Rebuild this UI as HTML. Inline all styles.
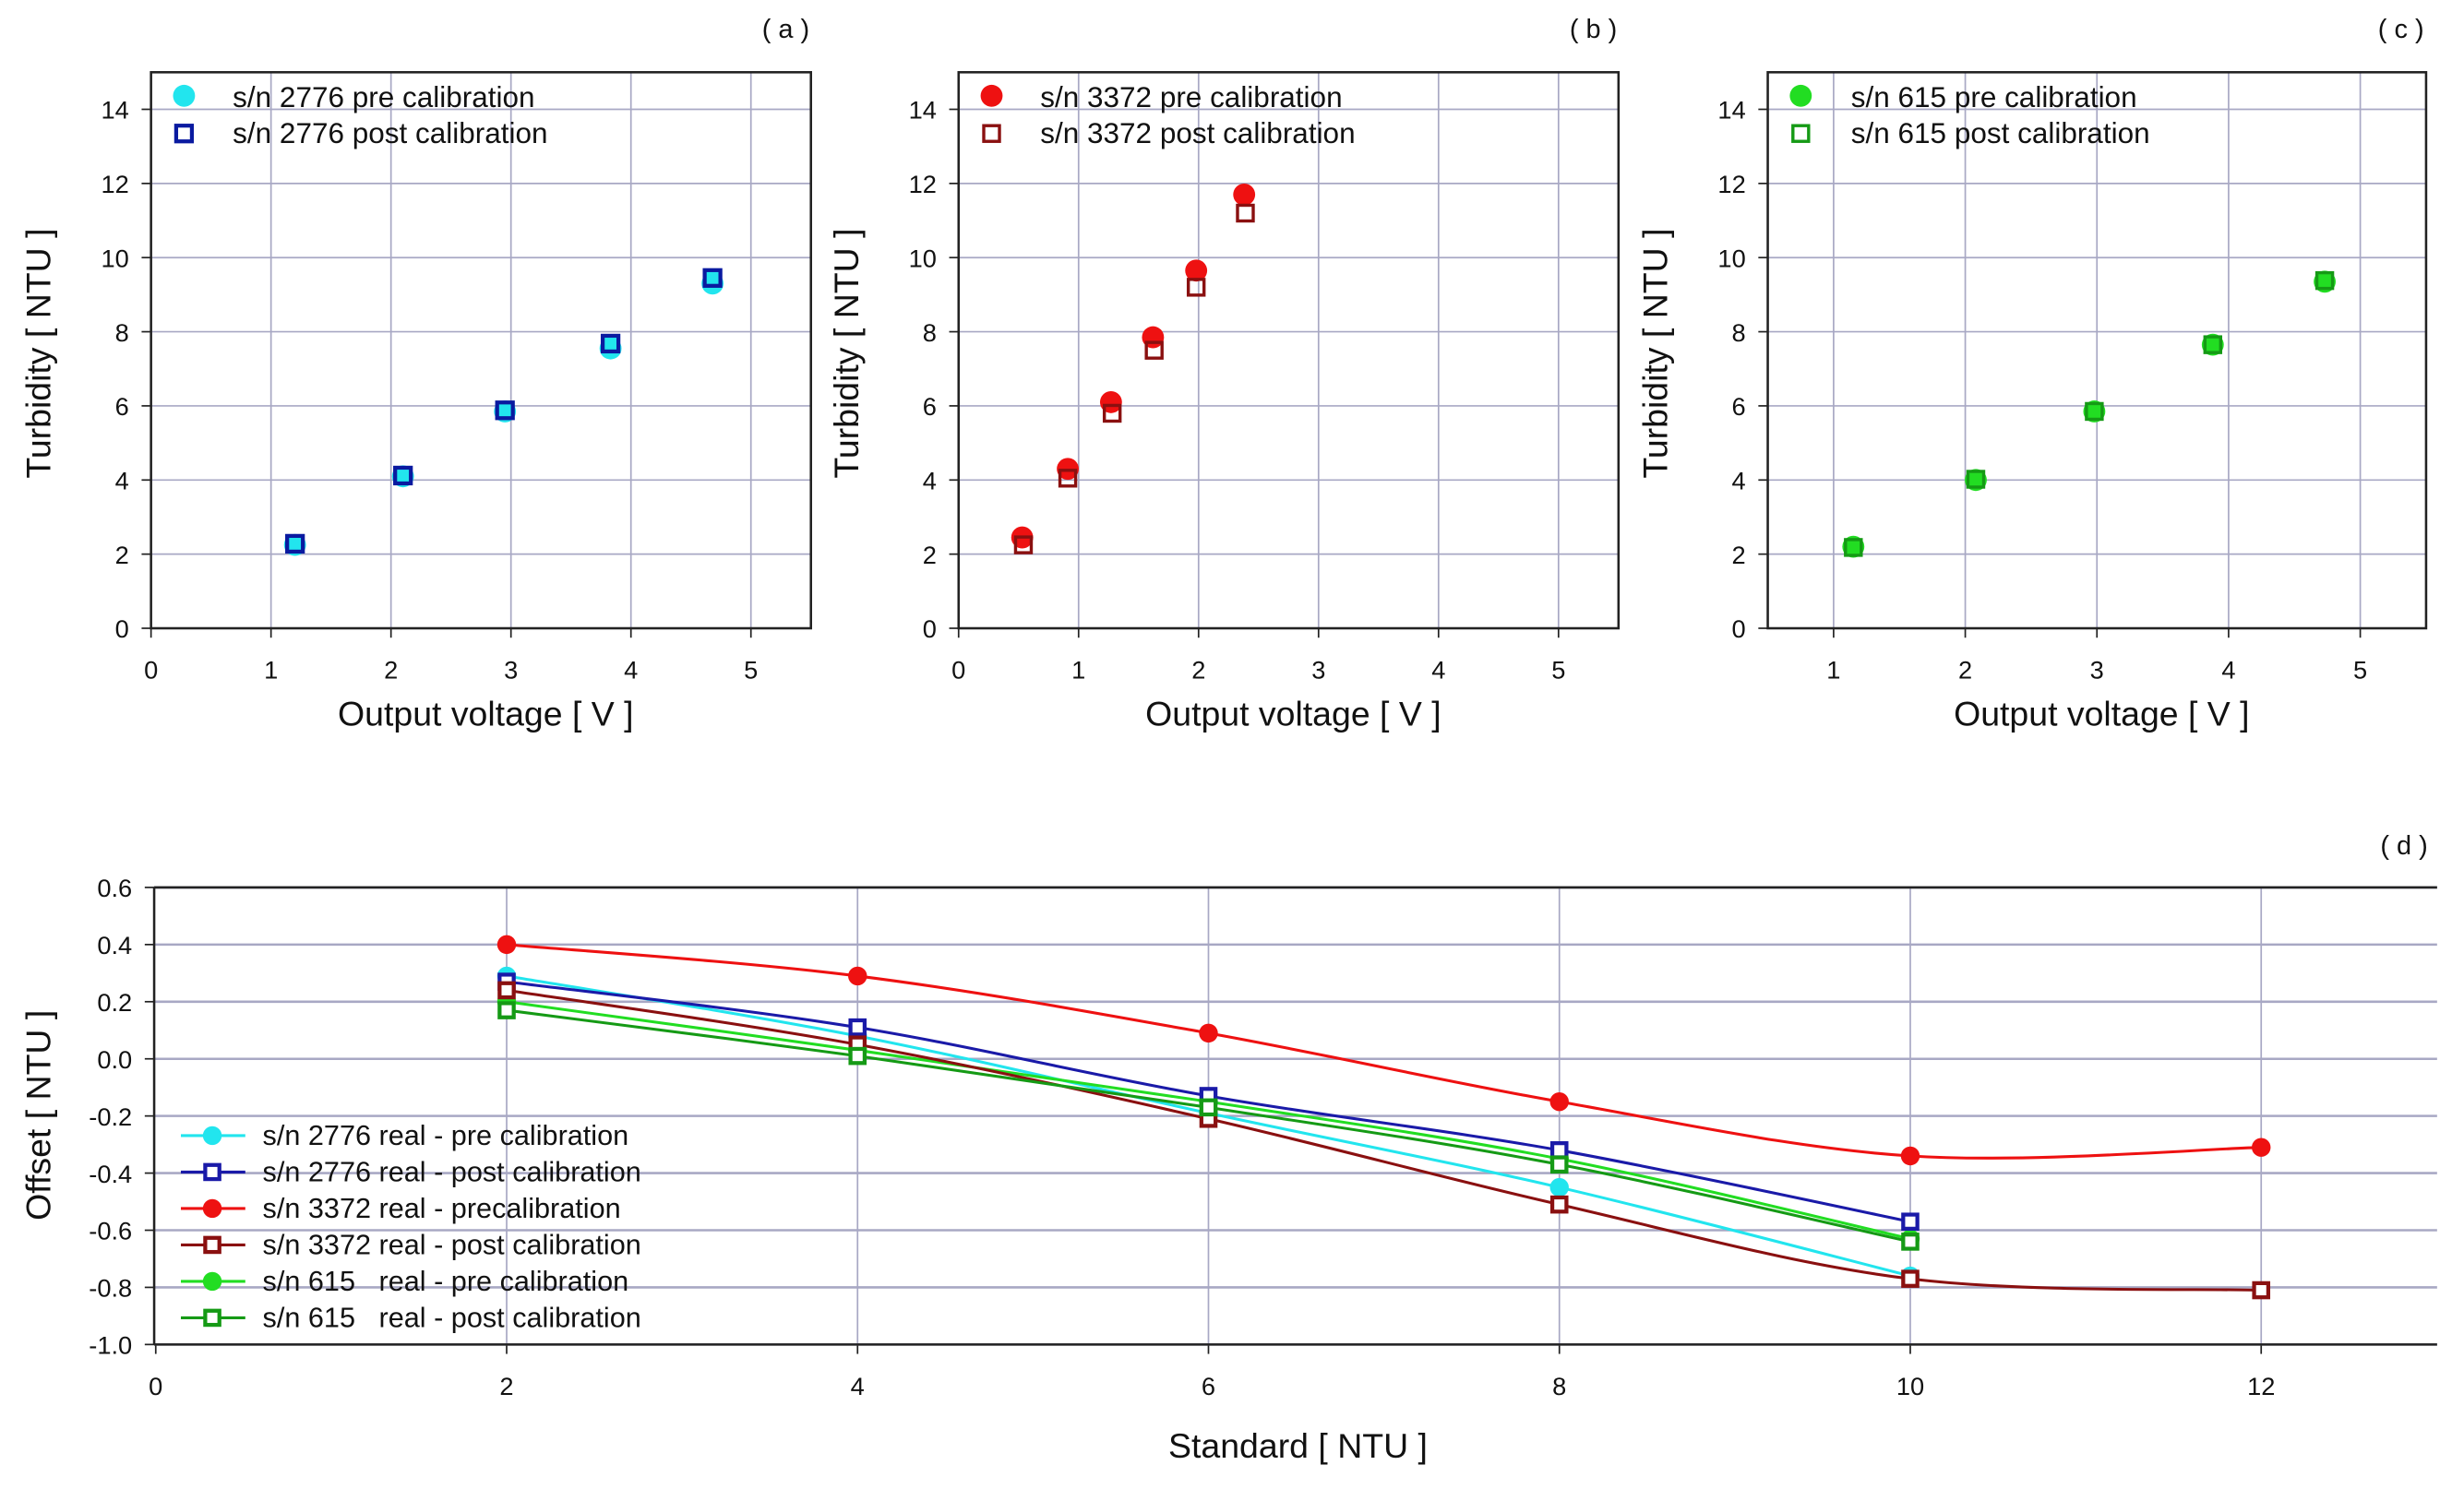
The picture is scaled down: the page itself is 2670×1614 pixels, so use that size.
<!DOCTYPE html>
<html><head><meta charset="utf-8"><style>html,body{margin:0;padding:0;background:#fff}svg{display:block}text{white-space:pre}</style></head>
<body>
<svg id="fig" width="2670" height="1614" viewBox="0 0 1568 948" xmlns="http://www.w3.org/2000/svg" font-family="Liberation Sans, sans-serif">
<rect width="1568" height="948" fill="#fff"/>
</svg>
<script>
// Panel (a)
const aX = [1.2, 2.1, 2.95, 3.83, 4.68];
const aPre = [2.25, 4.1, 5.85, 7.55, 9.3];
const aPost = [2.28, 4.12, 5.88, 7.68, 9.45];
// Panel (b)
const bXPre = [0.53, 0.91, 1.27, 1.62, 1.98, 2.38];
const bPre = [2.45, 4.3, 6.1, 7.85, 9.65, 11.7];
const bXPost = [0.54, 0.91, 1.28, 1.63, 1.98, 2.39];
const bPost = [2.25, 4.05, 5.8, 7.5, 9.2, 11.2];
// Panel (c)
const cX = [1.15, 2.08, 2.98, 3.88, 4.73];
const cPre = [2.2, 4.0, 5.85, 7.65, 9.35];
const cPost = [2.18, 4.02, 5.85, 7.65, 9.38];
const yTicksTop = [0, 2, 4, 6, 8, 10, 12, 14];
const xTicksAB = [0, 1, 2, 3, 4, 5];
const xTicksC = [1, 2, 3, 4, 5];
// Panel (d)
const dX = [2, 4, 6, 8, 10];
const dX12 = [2, 4, 6, 8, 10, 12];
const d2776Pre = [0.29, 0.08, -0.19, -0.45, -0.76];
const d2776Post = [0.27, 0.11, -0.13, -0.32, -0.57];
const d3372Pre = [0.40, 0.29, 0.09, -0.15, -0.34, -0.31];
const d3372Post = [0.24, 0.05, -0.21, -0.51, -0.77, -0.81];
const d615Pre = [0.20, 0.03, -0.15, -0.35, -0.63];
const d615Post = [0.17, 0.01, -0.17, -0.37, -0.64];
const dYTicks = [0.6, 0.4, 0.2, 0.0, -0.2, -0.4, -0.6, -0.8, -1.0];
const dXTicks = [0, 2, 4, 6, 8, 10, 12];

const svg = document.getElementById('fig');
const NS = 'http://www.w3.org/2000/svg';
function mk(tag, attrs, parent, text) {
  const e = document.createElementNS(NS, tag);
  for (const k in attrs) e.setAttribute(k, attrs[k]);
  if (text !== undefined) e.textContent = text;
  (parent || svg).appendChild(e);
  return e;
}
function lin(d0, d1, r0, r1) { return v => r0 + (v - d0) / (d1 - d0) * (r1 - r0); }

function circ(x, y, r, fill, name) {
  const e = mk('circle', {cx: x, cy: y, r: r, fill: fill});
  
  
}
function sq(x, y, s, stroke, fill, name, sw) {
  const e = mk('rect', {x: x - s / 2, y: y - s / 2, width: s, height: s, fill: fill, stroke: stroke, 'stroke-width': sw || 2.5});
  
  
}
function txt(x, y, s, size, anchor, name, extra) {
  const e = mk('text', Object.assign({x: x, y: y, 'font-size': size, 'text-anchor': anchor || 'start', fill: '#111'}, extra || {}), svg, s);
  
  
  return e;
}

function topPanel(x0, x1, xmin, xmax, xTicks, label, id) {
  const y0 = 46, y1 = 400;
  const X = lin(xmin, xmax, x0, x1), Y = lin(0, 15, y1, y0);
  const g = mk('g', {});
  
  
  xTicks.forEach(t => {
    if (X(t) > x0 + 1) mk('line', {x1: X(t), y1: y0, x2: X(t), y2: y1, stroke: '#a8a8c4', 'stroke-width': 1}, g);
    mk('line', {x1: X(t), y1: y1, x2: X(t), y2: y1 + 6, stroke: '#222', 'stroke-width': 1}, g);
    txt(X(t), y1 + 32, String(t), 16, 'middle', 'x-tick-label');
  });
  yTicksTop.forEach(t => {
    if (t > 0) mk('line', {x1: x0, y1: Y(t), x2: x1, y2: Y(t), stroke: '#a8a8c4', 'stroke-width': 1}, g);
    mk('line', {x1: x0 - 6, y1: Y(t), x2: x0, y2: Y(t), stroke: '#222', 'stroke-width': 1}, g);
    txt(x0 - 14, Y(t) + 6, String(t), 16, 'end', 'y-tick-label');
  });
  mk('rect', {x: x0, y: y0, width: x1 - x0, height: y1 - y0, fill: 'none', stroke: '#222', 'stroke-width': 1.5}, g);
  txt((x0 + x1) / 2 + 3, 462, 'Output voltage [ V ]', 22, 'middle', 'x-axis-title');
  txt(0, 0, 'Turbidity [ NTU ]', 22, 'middle', 'y-axis-title', {transform: `translate(${x0 - 64},${(y0 + y1) / 2 + 2}) rotate(-90)`});
  txt(x1 - 16, 24, label, 17, 'middle', 'panel-label');
  return {X, Y};
}

// (a)
let p = topPanel(96, 516, 0, 5.5, xTicksAB, '( a )', 'a');
aX.forEach((x, i) => circ(p.X(x), p.Y(aPre[i]), 7, '#22e5ee', 'point-2776-pre'));
aX.forEach((x, i) => sq(p.X(x), p.Y(aPost[i]), 10, '#0a1aa0', '#22e5ee', 'point-2776-post'));
circ(117, 61, 7, '#22e5ee', 'legend-marker-2776-pre');
sq(117, 85, 10, '#0a1aa0', '#fff', 'legend-marker-2776-post');
txt(148, 68, 's/n 2776 pre calibration', 18.5, 'start', 'legend-entry');
txt(148, 91, 's/n 2776 post calibration', 18.5, 'start', 'legend-entry');

// (b)
p = topPanel(610, 1030, 0, 5.5, xTicksAB, '( b )', 'b');
bXPre.forEach((x, i) => circ(p.X(x), p.Y(bPre[i]), 7, '#ee1111', 'point-3372-pre'));
bXPost.forEach((x, i) => sq(p.X(x), p.Y(bPost[i]), 10, '#8a1010', 'none', 'point-3372-post', 2));
circ(631, 61, 7, '#ee1111', 'legend-marker-3372-pre');
sq(631, 85, 10, '#8a1010', '#fff', 'legend-marker-3372-post', 2);
txt(662, 68, 's/n 3372 pre calibration', 18.5, 'start', 'legend-entry');
txt(662, 91, 's/n 3372 post calibration', 18.5, 'start', 'legend-entry');

// (c)
p = topPanel(1125, 1544, 0.5, 5.5, xTicksC, '( c )', 'c');
cX.forEach((x, i) => circ(p.X(x), p.Y(cPre[i]), 7, '#22dd22', 'point-615-pre'));
cX.forEach((x, i) => sq(p.X(x), p.Y(cPost[i]), 10, '#159a15', '#22dd22', 'point-615-post', 2));
circ(1146, 61, 7, '#22dd22', 'legend-marker-615-pre');
sq(1146, 85, 10, '#159a15', '#fff', 'legend-marker-615-post', 2);
txt(1178, 68, 's/n 615 pre calibration', 18.5, 'start', 'legend-entry');
txt(1178, 91, 's/n 615 post calibration', 18.5, 'start', 'legend-entry');

// (d)
const dx0 = 98, dx1 = 1551, dy0 = 565, dy1 = 856;
const DX = lin(0, 13, 99, 99 + 13 * 111.67), DY = lin(-1.0, 0.6, dy1, dy0);
dXTicks.forEach(t => {
  if (t > 0) mk('line', {x1: DX(t), y1: dy0, x2: DX(t), y2: dy1, stroke: '#a8a8c4', 'stroke-width': 1});
  mk('line', {x1: DX(t), y1: dy1, x2: DX(t), y2: dy1 + 6, stroke: '#222', 'stroke-width': 1});
  txt(DX(t), 888, String(t), 16, 'middle', 'x-tick-label');
});
dYTicks.forEach(t => {
  mk('line', {x1: dx0, y1: DY(t), x2: dx1, y2: DY(t), stroke: '#a8a8c4', 'stroke-width': 1.5});
  mk('line', {x1: dx0 - 6, y1: DY(t), x2: dx0, y2: DY(t), stroke: '#222', 'stroke-width': 1});
  txt(84, DY(t) + 6, t.toFixed(1), 16, 'end', 'y-tick-label');
});
mk('line', {x1: dx0, y1: dy0, x2: dx1, y2: dy0, stroke: '#222', 'stroke-width': 1.5});
mk('line', {x1: dx0, y1: dy1, x2: dx1, y2: dy1, stroke: '#222', 'stroke-width': 1.5});
mk('line', {x1: dx0, y1: dy0, x2: dx0, y2: dy1, stroke: '#222', 'stroke-width': 1.5});
txt(826, 928, 'Standard [ NTU ]', 22, 'middle', 'x-axis-title');
txt(0, 0, 'Offset [ NTU ]', 22, 'middle', 'y-axis-title', {transform: 'translate(32,710) rotate(-90)'});
txt(1530, 544, '( d )', 17, 'middle', 'panel-label');

function smooth(pts) {
  let d = `M${pts[0][0]},${pts[0][1]}`;
  for (let i = 0; i < pts.length - 1; i++) {
    const p0 = pts[i - 1] || pts[i], p1 = pts[i], p2 = pts[i + 1], p3 = pts[i + 2] || p2;
    const c1 = [p1[0] + (p2[0] - p0[0]) / 6, p1[1] + (p2[1] - p0[1]) / 6];
    const c2 = [p2[0] - (p3[0] - p1[0]) / 6, p2[1] - (p3[1] - p1[1]) / 6];
    d += ` C${c1[0]},${c1[1]} ${c2[0]},${c2[1]} ${p2[0]},${p2[1]}`;
  }
  return d;
}
function series(xs, ys, color, marker, name) {
  const pts = xs.map((x, i) => [DX(x), DY(ys[i])]);
  const l = mk('path', {d: smooth(pts), fill: 'none', stroke: color, 'stroke-width': 1.8});
  
  
  pts.forEach(pt => {
    if (marker === 'c') circ(pt[0], pt[1], 6, color, 'point-' + name);
    else sq(pt[0], pt[1], 9, color, '#fff', 'point-' + name, 2.5);
  });
}
series(dX, d2776Pre, '#22e5ee', 'c', '2776-pre');
series(dX12, d3372Pre, '#ee1111', 'c', '3372-pre');
series(dX, d615Pre, '#22dd22', 'c', '615-pre');
series(dX, d2776Post, '#1a1aa8', 's', '2776-post');
series(dX12, d3372Post, '#8a1010', 's', '3372-post');
series(dX, d615Post, '#159a15', 's', '615-post');

const legD = [
  ['s/n 2776 real - pre calibration', '#22e5ee', 'c'],
  ['s/n 2776 real - post calibration', '#1a1aa8', 's'],
  ['s/n 3372 real - precalibration', '#ee1111', 'c'],
  ['s/n 3372 real - post calibration', '#8a1010', 's'],
  ['s/n 615   real - pre calibration', '#22dd22', 'c'],
  ['s/n 615   real - post calibration', '#159a15', 's']
];
legD.forEach((e, i) => {
  const y = 723 + i * 23.2;
  mk('line', {x1: 115, y1: y, x2: 156, y2: y, stroke: e[1], 'stroke-width': 1.8});
  if (e[2] === 'c') circ(135, y, 6, e[1], 'legend-marker');
  else sq(135, y, 9, e[1], '#fff', 'legend-marker', 2.5);
  txt(167, y + 6, e[0], 18, 'start', 'legend-entry');
});
</script>
</body></html>
